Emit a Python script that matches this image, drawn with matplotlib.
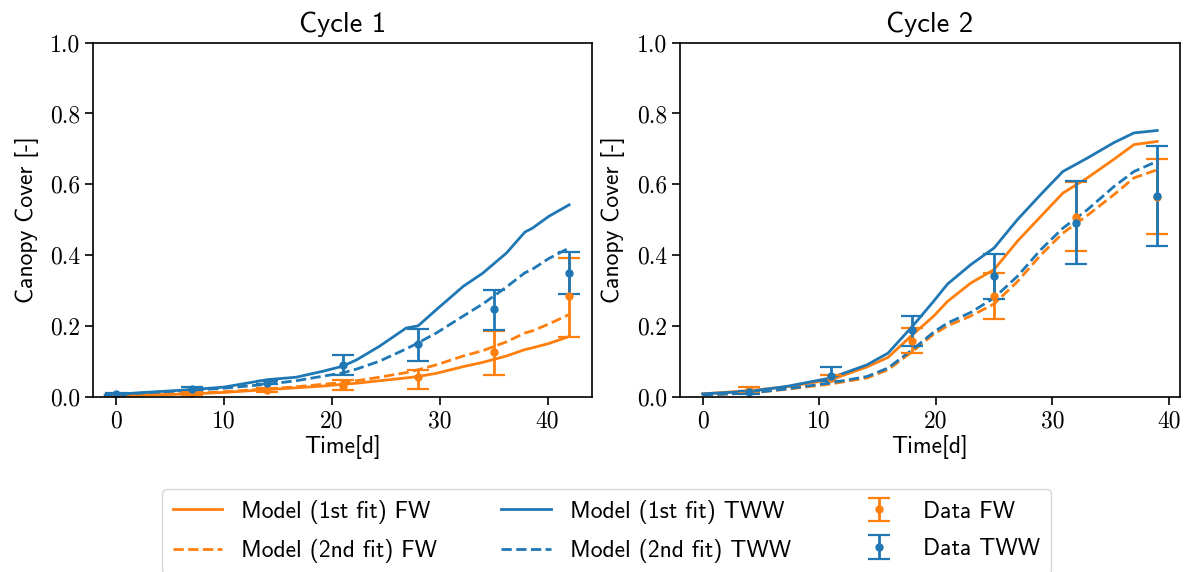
import matplotlib
matplotlib.use("Agg")
import matplotlib.pyplot as plt

# ---------------- Data ----------------
# Cycle 1 measured data
c1_days = [0, 7, 14, 21, 28, 35, 42]
c1_fw = [0.005, 0.010, 0.018, 0.031, 0.055, 0.125, 0.283]
c1_fw_lo = [0.002, 0.006, 0.012, 0.018, 0.022, 0.060, 0.170]
c1_fw_hi = [0.008, 0.014, 0.025, 0.046, 0.076, 0.185, 0.392]
c1_tww = [0.008, 0.023, 0.040, 0.090, 0.150, 0.248, 0.349]
c1_tww_lo = [0.005, 0.019, 0.035, 0.062, 0.102, 0.189, 0.289]
c1_tww_hi = [0.011, 0.027, 0.045, 0.119, 0.192, 0.302, 0.409]

# Cycle 1 model curves
c1_m_days = [-1, 7, 10, 14, 16.7, 19.2, 21, 22.3, 24.4, 26.9, 28, 29.7, 32.2, 34, 36.2, 37.9, 38.6, 40.1, 42]
c1_tww_fit1 = [0.005, 0.020, 0.027, 0.048, 0.055, 0.072, 0.086, 0.104, 0.142, 0.194, 0.200, 0.246, 0.312, 0.349, 0.406, 0.465, 0.476, 0.509, 0.542]
c1_tww_fit2 = [0.005, 0.018, 0.024, 0.035, 0.045, 0.058, 0.067, 0.078, 0.100, 0.135, 0.152, 0.180, 0.228, 0.262, 0.310, 0.350, 0.360, 0.390, 0.420]
c1_fw_fit1 = [0.002, 0.008, 0.012, 0.020, 0.025, 0.030, 0.035, 0.038, 0.045, 0.053, 0.057, 0.066, 0.085, 0.097, 0.115, 0.133, 0.138, 0.150, 0.170]
c1_fw_fit2 = [0.002, 0.009, 0.014, 0.022, 0.028, 0.035, 0.040, 0.045, 0.055, 0.068, 0.076, 0.090, 0.115, 0.130, 0.155, 0.180, 0.186, 0.205, 0.232]

# Cycle 2 measured data
c2_days = [4, 11, 18, 25, 32, 39]
c2_fw = [0.020, 0.053, 0.158, 0.285, 0.508, 0.565]
c2_fw_lo = [0.014, 0.045, 0.123, 0.220, 0.412, 0.460]
c2_fw_hi = [0.026, 0.060, 0.194, 0.349, 0.606, 0.670]
c2_tww = [0.012, 0.059, 0.187, 0.342, 0.491, 0.566]
c2_tww_lo = [0.008, 0.045, 0.142, 0.276, 0.375, 0.427]
c2_tww_hi = [0.016, 0.084, 0.229, 0.403, 0.608, 0.707]

# Cycle 2 model curves
c2_m_days = [0, 4, 7.2, 11, 14.1, 15.9, 18, 19.8, 21, 23, 25, 27, 29, 30.9, 33, 35.3, 37, 39]
c2_tww_fit1 = [0.008, 0.015, 0.029, 0.053, 0.090, 0.123, 0.199, 0.269, 0.318, 0.373, 0.420, 0.500, 0.571, 0.636, 0.674, 0.718, 0.745, 0.752]
c2_fw_fit1 = [0.008, 0.017, 0.028, 0.048, 0.084, 0.111, 0.175, 0.227, 0.269, 0.321, 0.359, 0.439, 0.509, 0.575, 0.618, 0.671, 0.712, 0.721]
c2_tww_fit2 = [0.005, 0.010, 0.022, 0.039, 0.057, 0.081, 0.133, 0.182, 0.208, 0.238, 0.279, 0.340, 0.415, 0.476, 0.528, 0.594, 0.636, 0.665]
c2_fw_fit2 = [0.005, 0.010, 0.021, 0.036, 0.053, 0.076, 0.128, 0.176, 0.200, 0.228, 0.262, 0.325, 0.400, 0.462, 0.512, 0.571, 0.618, 0.641]

y_ticks = [0.0, 0.2, 0.4, 0.6, 0.8, 1.0]
x_ticks = [0, 10, 20, 30, 40]
titles = ["Cycle 1", "Cycle 2"]

# ---------------- Plot ----------------
BLUE = "#1f77b4"
ORANGE = "#ff7f0e"
SANS = "cmss10"
SERIF = "cmr10"

fig = plt.figure(figsize=(11.89, 5.72), dpi=100)
ax1 = fig.add_axes([0.0785, 0.3065, 0.4192, 0.6189])
ax2 = fig.add_axes([0.5719, 0.3065, 0.4205, 0.6189])

panels = [
    (ax1, c1_m_days, c1_fw_fit1, c1_fw_fit2, c1_tww_fit1, c1_tww_fit2,
     c1_days, c1_fw, c1_fw_lo, c1_fw_hi, c1_tww, c1_tww_lo, c1_tww_hi, (-2.1, 44.1)),
    (ax2, c2_m_days, c2_fw_fit1, c2_fw_fit2, c2_tww_fit1, c2_tww_fit2,
     c2_days, c2_fw, c2_fw_lo, c2_fw_hi, c2_tww, c2_tww_lo, c2_tww_hi, (-1.95, 40.95)),
]

handles = []
for i, (ax, md, fw1, fw2, tw1, tw2, dd, fw, fwlo, fwhi, tw, twlo, twhi, xl) in enumerate(panels):
    h1, = ax.plot(md, fw1, color=ORANGE, lw=2, label="Model (1st fit) FW")
    h2, = ax.plot(md, fw2, color=ORANGE, lw=2, ls="--", label="Model (2nd fit) FW")
    h3, = ax.plot(md, tw1, color=BLUE, lw=2, label="Model (1st fit) TWW")
    h4, = ax.plot(md, tw2, color=BLUE, lw=2, ls="--", label="Model (2nd fit) TWW")
    fw_err = [[v - lo for v, lo in zip(fw, fwlo)], [hi - v for v, hi in zip(fw, fwhi)]]
    tw_err = [[v - lo for v, lo in zip(tw, twlo)], [hi - v for v, hi in zip(tw, twhi)]]
    h5 = ax.errorbar(dd, fw, yerr=fw_err, fmt="o", color=ORANGE, ms=5,
                     elinewidth=2, capsize=8, capthick=1.6, label="Data FW")
    h6 = ax.errorbar(dd, tw, yerr=tw_err, fmt="o", color=BLUE, ms=5,
                     elinewidth=2, capsize=8, capthick=1.6, label="Data TWW")
    if i == 0:
        handles = [h1, h2, h3, h4, h5, h6]
    ax.set_xlim(*xl)
    ax.set_ylim(0, 1.0)
    ax.set_yticks(y_ticks)
    ax.set_yticklabels([f"{v:.1f}" for v in y_ticks], fontfamily=SERIF, fontsize=17)
    ax.set_xticks(x_ticks)
    ax.set_xticklabels([str(v) for v in x_ticks], fontfamily=SERIF, fontsize=17)
    ax.tick_params(length=6, width=1.2)
    for s in ax.spines.values():
        s.set_linewidth(1.2)
    ax.set_xlabel("Time[d]", fontfamily=SANS, fontsize=17, labelpad=2)
    ax.set_ylabel("Canopy Cover [-]", fontfamily=SANS, fontsize=17, labelpad=8)
    ax.set_title(titles[i], fontfamily=SANS, fontsize=20.5, pad=8)

leg = fig.legend(handles, [h.get_label() for h in handles], loc="upper center",
                 bbox_to_anchor=(0.51, 0.145), ncol=3, frameon=True,
                 borderaxespad=0.0,
                 prop={"family": SANS, "size": 17}, handlelength=2.1,
                 columnspacing=2.7, borderpad=0.45, labelspacing=0.65)

fig.savefig("out.png", dpi=100)
